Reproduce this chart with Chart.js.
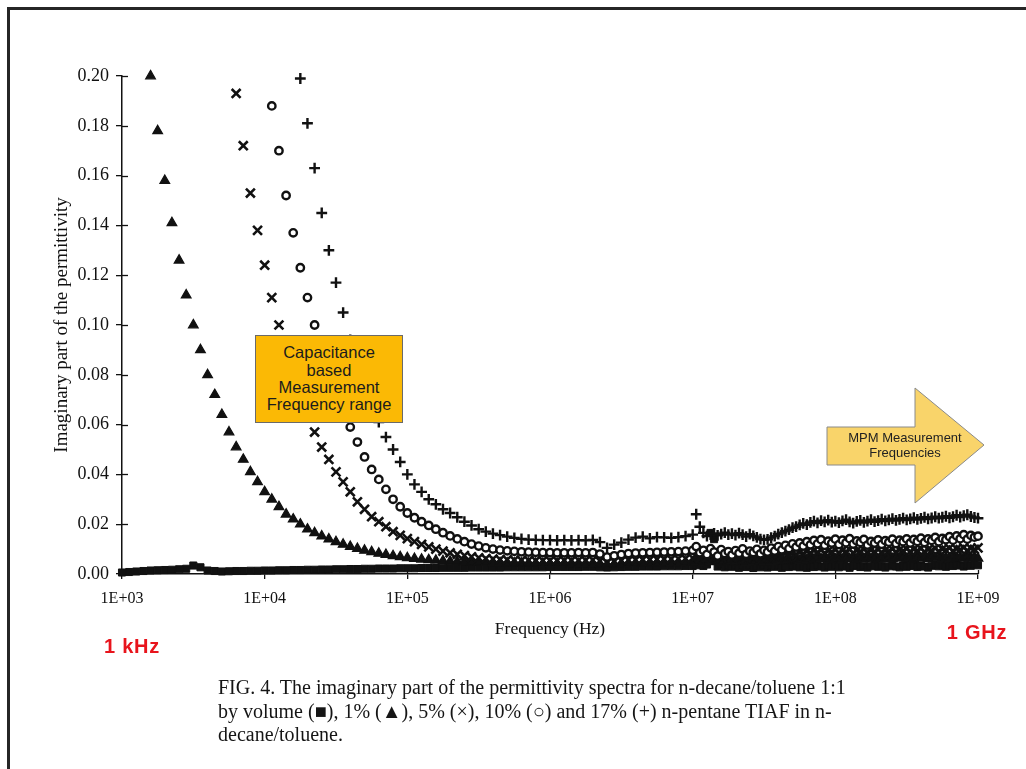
<!DOCTYPE html>
<html>
<head>
<meta charset="utf-8">
<script src="https://cdn.jsdelivr.net/npm/chart.js@4.4.1/dist/chart.umd.min.js"></script>
<style>
  html, body { margin: 0; padding: 0; background: #fff; overflow: hidden; }
  #wrap { position: relative; width: 1026px; height: 769px; }
  #c { position: absolute; left: 0; top: 0; }
  .frame { position: absolute; left: 7px; top: 7px; width: 1030px; height: 780px;
           border-left: 3px solid #262626; border-top: 3px solid #262626; }
  .red { position: absolute; color: #e8141c; font: bold 20px "Liberation Sans", Arial, sans-serif;
         letter-spacing: 0.8px; transform: translate(-50%, -50%); white-space: nowrap; }
  .caption { position: absolute; left: 218px; top: 676px; font: 20px "Liberation Serif", "Times New Roman", serif;
             line-height: 23.5px; color: #151515; white-space: nowrap; }
  .capbox { position: absolute; left: 255px; top: 335px; width: 146px; height: 86px;
            background: #fbb905; border: 1px solid #6a6a6a; display: flex; align-items: center;
            justify-content: center; text-align: center; font: 16.5px "Liberation Sans", Arial, sans-serif;
            line-height: 17.3px; color: #1c1c1c; }
  svg { position: absolute; left: 0; top: 0; }
</style>
</head>
<body>
<div id="wrap">
  <canvas id="c" width="1026" height="769"></canvas>
  <div class="frame"></div>
  <div class="capbox"><div>Capacitance<br>based<br>Measurement<br>Frequency range</div></div>
  <svg width="1026" height="769">
    <polygon points="827,427 915,427 915,388 984,445 915,503 915,465 827,465"
             fill="#f9d46a" stroke="#8a8a8a" stroke-width="1"/>
    <text x="905" y="442" text-anchor="middle" font-family="Liberation Sans, Arial, sans-serif" font-size="13" fill="#222">MPM Measurement</text>
    <text x="905" y="457" text-anchor="middle" font-family="Liberation Sans, Arial, sans-serif" font-size="13" fill="#222">Frequencies</text>
  </svg>
  <div class="red" style="left:132px; top:646px;">1 kHz</div>
  <div class="red" style="left:977px; top:632px;">1 GHz</div>
  <div class="caption">FIG. 4. The imaginary part of the permittivity spectra for n-decane/toluene 1:1<br>by volume (■), 1% (▲), 5% (×), 10% (○) and 17% (+) n-pentane TIAF in n-<br>decane/toluene.</div>
</div>
<script>
// ---------- tick labels ----------
const xTickValues = [1e3, 1e4, 1e5, 1e6, 1e7, 1e8, 1e9];
const xTickLabels = ['1E+03', '1E+04', '1E+05', '1E+06', '1E+07', '1E+08', '1E+09'];
const yTickValues = [0, 0.02, 0.04, 0.06, 0.08, 0.10, 0.12, 0.14, 0.16, 0.18, 0.20];
const yTickLabels = ['0.00', '0.02', '0.04', '0.06', '0.08', '0.10', '0.12', '0.14', '0.16', '0.18', '0.20'];

// ---------- frequencies (Hz) ----------
// capacitance sweep, 1 kHz .. 10 MHz
const freqCap = [
  1.000e3, 1.122e3, 1.259e3, 1.413e3, 1.585e3, 1.778e3, 1.995e3, 2.239e3, 2.512e3, 2.818e3,
  3.162e3, 3.548e3, 3.981e3, 4.467e3, 5.012e3, 5.623e3, 6.310e3, 7.079e3, 7.943e3, 8.913e3,
  1.000e4, 1.122e4, 1.259e4, 1.413e4, 1.585e4, 1.778e4, 1.995e4, 2.239e4, 2.512e4, 2.818e4,
  3.162e4, 3.548e4, 3.981e4, 4.467e4, 5.012e4, 5.623e4, 6.310e4, 7.079e4, 7.943e4, 8.913e4,
  1.000e5, 1.122e5, 1.259e5, 1.413e5, 1.585e5, 1.778e5, 1.995e5, 2.239e5, 2.512e5, 2.818e5,
  3.162e5, 3.548e5, 3.981e5, 4.467e5, 5.012e5, 5.623e5, 6.310e5, 7.079e5, 7.943e5, 8.913e5,
  1.000e6, 1.122e6, 1.259e6, 1.413e6, 1.585e6, 1.778e6, 1.995e6, 2.239e6, 2.512e6, 2.818e6,
  3.162e6, 3.548e6, 3.981e6, 4.467e6, 5.012e6, 5.623e6, 6.310e6, 7.079e6, 7.943e6, 8.913e6,
  1.000e7
];
// MPM sweep, 10 MHz .. 1 GHz
const freqMpm = [
  1.059e7, 1.122e7, 1.189e7, 1.259e7, 1.334e7, 1.413e7, 1.496e7, 1.585e7, 1.679e7, 1.778e7,
  1.884e7, 1.995e7, 2.113e7, 2.239e7, 2.371e7, 2.512e7, 2.661e7, 2.818e7, 2.985e7, 3.162e7,
  3.350e7, 3.548e7, 3.758e7, 3.981e7, 4.217e7, 4.467e7, 4.732e7, 5.012e7, 5.309e7, 5.623e7,
  5.957e7, 6.310e7, 6.683e7, 7.079e7, 7.499e7, 7.943e7, 8.414e7, 8.913e7, 9.441e7, 1.000e8,
  1.059e8, 1.122e8, 1.189e8, 1.259e8, 1.334e8, 1.413e8, 1.496e8, 1.585e8, 1.679e8, 1.778e8,
  1.884e8, 1.995e8, 2.113e8, 2.239e8, 2.371e8, 2.512e8, 2.661e8, 2.818e8, 2.985e8, 3.162e8,
  3.350e8, 3.548e8, 3.758e8, 3.981e8, 4.217e8, 4.467e8, 4.732e8, 5.012e8, 5.309e8, 5.623e8,
  5.957e8, 6.310e8, 6.683e8, 7.079e8, 7.499e8, 7.943e8, 8.414e8, 8.913e8, 9.441e8, 1.000e9
];

// ---------- n-decane/toluene (squares) ----------
const decaneCap = [
  .0006,.0008,.0010,.0012,.0014,.0015,.0016,.0017,.0019,.0021,.0034,.0027,.0014,.0012,.0010,.0011,.0012,.0012,.0013,.0013,
  .0014,.0014,.0015,.0015,.0016,.0016,.0017,.0017,.0018,.0018,.0019,.0019,.0020,.0020,.0021,.0021,.0022,.0022,.0022,.0023,
  .0023,.0023,.0024,.0024,.0024,.0025,.0025,.0025,.0025,.0026,.0026,.0026,.0026,.0026,.0027,.0027,.0027,.0027,.0027,.0027,
  .0028,.0028,.0028,.0028,.0028,.0029,.0029,.0027,.0026,.0027,.0028,.0029,.0029,.0030,.0030,.0030,.0031,.0031,.0031,.0032,
  .0032
];
const decaneMpm = [
  .0035,.0040,.0032,.0038,.0165,.0140,.0030,.0038,.0027,.0034,
  .0029,.0036,.0025,.0033,.0028,.0035,.0024,.0031,.0027,.0034,
  .0026,.0033,.0029,.0036,.0025,.0032,.0028,.0035,.0030,.0027,
  .0031,.0025,.0034,.0028,.0036,.0030,.0026,.0033,.0029,.0035,
  .0027,.0034,.0030,.0025,.0032,.0036,.0028,.0033,.0026,.0031,
  .0035,.0029,.0033,.0026,.0031,.0037,.0030,.0027,.0034,.0029,
  .0032,.0036,.0028,.0034,.0030,.0026,.0033,.0038,.0031,.0035,
  .0029,.0036,.0032,.0039,.0034,.0030,.0037,.0033,.0040,.0035
];

// ---------- 1% TIAF (triangles) ----------
const tiaf1Cap = [
  null,null,null,null,
  .200,.178,.158,.141,.126,.112,.100,.090,.080,.072,.064,.057,.051,.046,.041,.037,
  .033,.030,.027,.024,.022,.020,.018,.0165,.0152,.0140,.0129,.0119,.0110,.0102,.0095,.0089,.0083,.0078,.0073,.0069,
  .0065,.0062,.0059,.0057,.0055,.0053,.0051,.0050,.0049,.0048,.0047,.0046,.0045,.0045,.0044,.0044,.0043,.0043,.0043,.0042,
  .0042,.0042,.0042,.0041,.0041,.0041,.0041,.0040,.0038,.0040,.0041,.0042,.0042,.0043,.0043,.0044,.0044,.0045,.0045,.0046,
  .0047
];
const tiaf1Mpm = [
  .0050,.0058,.0046,.0055,.0049,.0060,.0052,.0047,.0057,.0051,
  .0054,.0048,.0059,.0052,.0046,.0056,.0050,.0058,.0053,.0049,
  .0055,.0050,.0061,.0054,.0058,.0052,.0063,.0056,.0060,.0054,
  .0062,.0057,.0065,.0059,.0068,.0061,.0066,.0058,.0064,.0060,
  .0063,.0058,.0067,.0061,.0065,.0059,.0068,.0062,.0066,.0060,
  .0064,.0059,.0068,.0062,.0066,.0061,.0069,.0063,.0067,.0061,
  .0065,.0060,.0069,.0063,.0067,.0062,.0070,.0064,.0068,.0062,
  .0066,.0061,.0070,.0064,.0068,.0063,.0071,.0065,.0069,.0063
];

// ---------- 5% TIAF (x) ----------
const tiaf5Cap = [
  null,null,null,null,null,null,null,null,null,null,null,null,null,null,null,null,
  .193,.172,.153,.138,
  .124,.111,.100,.090,.080,.072,.064,.057,.051,.046,.041,.037,.033,.029,.026,.023,.021,.019,.017,.0155,
  .0142,.0130,.0119,.0109,.0100,.0092,.0085,.0079,.0074,.0069,.0065,.0062,.0060,.0058,.0057,.0056,.0055,.0055,.0054,.0054,
  .0054,.0054,.0055,.0055,.0055,.0055,.0056,.0052,.0046,.0050,.0054,.0056,.0057,.0058,.0058,.0059,.0060,.0060,.0061,.0062,
  .0064
];
const tiaf5Mpm = [
  .0070,.0062,.0075,.0066,.0080,.0068,.0072,.0064,.0078,.0070,
  .0066,.0074,.0069,.0077,.0063,.0071,.0067,.0075,.0070,.0073,
  .0068,.0076,.0071,.0080,.0074,.0083,.0077,.0086,.0079,.0088,
  .0082,.0091,.0085,.0094,.0087,.0096,.0084,.0093,.0089,.0097,
  .0086,.0095,.0090,.0098,.0085,.0094,.0091,.0099,.0088,.0096,
  .0090,.0098,.0087,.0095,.0092,.0100,.0089,.0097,.0093,.0101,
  .0091,.0099,.0094,.0102,.0090,.0098,.0095,.0103,.0092,.0100,
  .0096,.0104,.0093,.0101,.0098,.0106,.0095,.0103,.0099,.0105
];

// ---------- 10% TIAF (o) ----------
const tiaf10Cap = [
  null,null,null,null,null,null,null,null,null,null,null,null,null,null,null,null,null,null,null,null,
  null,.188,.170,.152,.137,.123,.111,.100,.090,.081,.073,.065,.059,.053,.047,.042,.038,.034,.030,.027,
  .0245,.0226,.0210,.0195,.0180,.0166,.0153,.0141,.0130,.0120,.0112,.0105,.0100,.0096,.0093,.0091,.0089,.0088,.0087,.0086,
  .0086,.0085,.0085,.0085,.0086,.0085,.0086,.0080,.0068,.0073,.0078,.0082,.0084,.0085,.0086,.0087,.0088,.0089,.0090,.0092,
  .0095
];
const tiaf10Mpm = [
  .0110,.0085,.0095,.0078,.0102,.0088,.0072,.0098,.0082,.0090,
  .0076,.0094,.0083,.0101,.0079,.0092,.0086,.0099,.0081,.0095,
  .0088,.0104,.0092,.0110,.0097,.0115,.0102,.0121,.0108,.0125,
  .0112,.0130,.0117,.0135,.0121,.0138,.0115,.0132,.0124,.0140,
  .0118,.0136,.0126,.0142,.0120,.0133,.0127,.0139,.0116,.0131,
  .0124,.0137,.0119,.0134,.0128,.0140,.0122,.0136,.0130,.0141,
  .0125,.0139,.0131,.0144,.0127,.0141,.0135,.0147,.0130,.0143,
  .0138,.0150,.0136,.0153,.0142,.0158,.0140,.0155,.0148,.0152
];

// ---------- 17% TIAF (+) ----------
const tiaf17Cap = [
  null,null,null,null,null,null,null,null,null,null,null,null,null,null,null,null,null,null,null,null,
  null,null,null,null,null,.199,.181,.163,.145,.130,.117,.105,.094,.084,.075,.067,.061,.055,.050,.045,
  .040,.036,.033,.030,.028,.026,.0245,.0228,.0210,.0195,.0180,.0170,.0162,.0156,.0150,.0145,.0141,.0138,.0137,.0136,
  .0136,.0135,.0136,.0135,.0136,.0135,.0137,.0128,.0105,.0118,.0126,.0138,.0146,.0150,.0143,.0148,.0147,.0145,.0148,.0152,
  .0158
];
const tiaf17Mpm = [
  .0240,.0190,.0165,.0152,.0158,.0163,.0155,.0160,.0166,.0158,
  .0162,.0156,.0164,.0158,.0150,.0160,.0153,.0147,.0140,.0137,
  .0139,.0146,.0152,.0160,.0166,.0172,.0178,.0186,.0190,.0197,
  .0203,.0198,.0207,.0212,.0205,.0214,.0209,.0216,.0208,.0212,
  .0206,.0213,.0218,.0209,.0204,.0211,.0215,.0207,.0212,.0218,
  .0210,.0214,.0220,.0213,.0217,.0222,.0215,.0219,.0224,.0217,
  .0221,.0226,.0219,.0223,.0228,.0221,.0225,.0230,.0224,.0228,
  .0232,.0226,.0230,.0236,.0229,.0234,.0238,.0231,.0227,.0224
];

// ---------- build ----------
function pts(fs, ys) { return fs.map((f, i) => ({ x: f, y: ys[i] })); }
function series(cap, mpm) { return pts(freqCap, cap).concat(pts(freqMpm, mpm)); }

const INK = '#111';

const crossTicks = {
  id: 'crossTicks',
  beforeDatasetsDraw(chart) {
    const { ctx, chartArea, scales } = chart;
    ctx.save();
    ctx.strokeStyle = INK;
    ctx.lineWidth = 1.3;
    yTickValues.forEach(v => {
      const py = Math.round(scales.y.getPixelForValue(v)) + 0.5;
      ctx.beginPath(); ctx.moveTo(chartArea.left, py); ctx.lineTo(chartArea.left + 6, py); ctx.stroke();
    });
    xTickValues.forEach(v => {
      const px = Math.round(scales.x.getPixelForValue(v)) + 0.5;
      ctx.beginPath(); ctx.moveTo(px, chartArea.bottom); ctx.lineTo(px, chartArea.bottom - 4); ctx.stroke();
    });
    ctx.restore();
  }
};

new Chart(document.getElementById('c'), {
  type: 'scatter',
  data: {
    datasets: [
      { label: 'n-decane/toluene', data: series(decaneCap, decaneMpm), order: 5,
        pointStyle: 'rect', pointRadius: 5, pointBackgroundColor: INK, pointBorderColor: INK, pointBorderWidth: 1, clip: false },
      { label: '1%', data: series(tiaf1Cap, tiaf1Mpm), order: 4,
        pointStyle: 'triangle', pointRadius: 5.6, pointBackgroundColor: INK, pointBorderColor: INK, pointBorderWidth: 1.2, clip: false },
      { label: '5%', data: series(tiaf5Cap, tiaf5Mpm), order: 3,
        pointStyle: 'crossRot', pointRadius: 6.3, pointBackgroundColor: INK, pointBorderColor: INK, pointBorderWidth: 2.6, clip: false },
      { label: '10%', data: series(tiaf10Cap, tiaf10Mpm), order: 2,
        pointStyle: 'circle', pointRadius: 3.7, pointBackgroundColor: '#fff', pointBorderColor: INK, pointBorderWidth: 2.4, clip: false },
      { label: '17%', data: series(tiaf17Cap, tiaf17Mpm), order: 1,
        pointStyle: 'cross', pointRadius: 5.4, pointBackgroundColor: INK, pointBorderColor: INK, pointBorderWidth: 2.4, clip: false }
    ]
  },
  options: {
    responsive: false,
    animation: false,
    events: [],
    layout: { autoPadding: false, padding: { left: 0, right: 48, top: 76, bottom: 125 } },
    plugins: { legend: { display: false }, tooltip: { enabled: false } },
    scales: {
      x: {
        type: 'logarithmic', position: 'bottom', min: 1e3, max: 1e9,
        afterBuildTicks: s => { s.ticks = xTickValues.map(v => ({ value: v })); },
        afterFit: s => { s.height = 70; },
        border: { display: true, color: INK, width: 1.5 },
        grid: { display: true, drawOnChartArea: false, drawTicks: true, tickLength: 5, color: INK, lineWidth: 1.3 },
        ticks: { autoSkip: false, maxRotation: 0, padding: 10, color: INK,
                 font: { family: 'Liberation Serif', size: 16 },
                 callback: (v, i) => xTickLabels[i] },
        title: { display: true, text: 'Frequency (Hz)', color: INK,
                 font: { family: 'Liberation Serif', size: 17.5 }, padding: { top: 0, bottom: 4 } }
      },
      y: {
        type: 'linear', position: 'left', min: 0, max: 0.2,
        afterBuildTicks: s => { s.ticks = yTickValues.map(v => ({ value: v })); },
        afterFit: s => { s.width = 122; },
        border: { display: true, color: INK, width: 1.5 },
        grid: { display: true, drawOnChartArea: false, drawTicks: true, tickLength: 6, color: INK, lineWidth: 1.3 },
        ticks: { padding: 7, color: INK, font: { family: 'Liberation Serif', size: 18 },
                 callback: (v, i) => yTickLabels[i] },
        title: { display: true, text: 'Imaginary part of the permittivity', color: INK,
                 font: { family: 'Liberation Serif', size: 19 }, padding: { top: 51, bottom: 0 } }
      }
    }
  },
  plugins: [crossTicks]
});
</script>
</body>
</html>
